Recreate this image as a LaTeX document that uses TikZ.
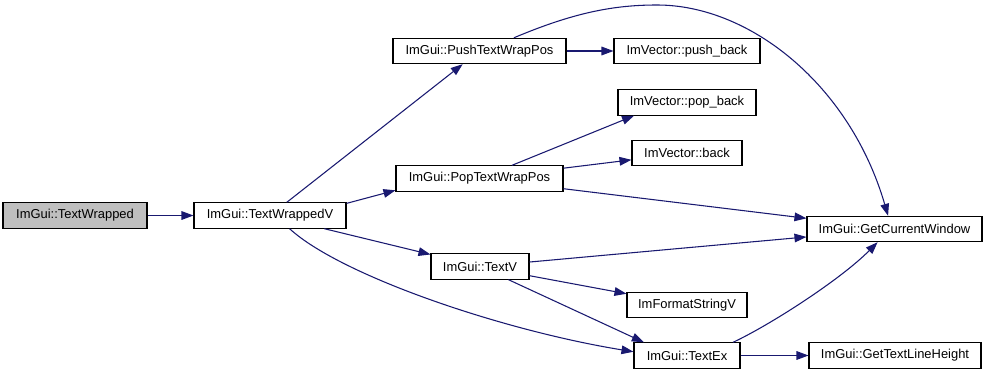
\documentclass[tikz,border=0pt]{standalone}
\usepackage{fontspec}
\setmainfont{Liberation Sans}
\usetikzlibrary{arrows.meta}
\definecolor{edgeblue}{RGB}{25,25,112}
\definecolor{rootgray}{RGB}{191,191,191}
\begin{document}
\begin{tikzpicture}[x=0.75pt,y=-0.75pt,
  fn/.style={draw=black, line width=0.8pt, fill=white, inner sep=0pt,
    minimum height=19pt, font=\fontsize{9.7}{11}\selectfont, text=black},
  call/.style={draw=edgeblue, line width=0.8pt,
    -{Triangle[length=9pt,width=6.5pt]}, fill=none},
]
\useasboundingbox (0,0) rectangle (987,374);

% functions
\node[fn, fill=rootgray, minimum width=108pt] (tw) at (75,215.5) {ImGui::TextWrapped};
\node[fn, minimum width=114pt] (twv) at (270,215.5) {ImGui::TextWrappedV};
\node[fn, minimum width=129.75pt] (push) at (479.5,51) {ImGui::PushTextWrapPos};
\node[fn, minimum width=125.25pt] (pop) at (479.5,178.5) {ImGui::PopTextWrapPos};
\node[fn, minimum width=73.5pt] (tv) at (480,266.5) {ImGui::TextV};
\node[fn, minimum width=109.5pt] (pushb) at (687,51) {ImVector::push\_back};
\node[fn, minimum width=103.5pt] (popb) at (687,102.5) {ImVector::pop\_back};
\node[fn, minimum width=82.5pt] (back) at (687,153) {ImVector::back};
\node[fn, minimum width=90pt] (fsv) at (687,305) {ImFormatStringV};
\node[fn, minimum width=79.5pt] (tex) at (687,355.5) {ImGui::TextEx};
\node[fn, minimum width=131.25pt] (gcw) at (894.5,229) {ImGui::GetCurrentWindow};
\node[fn, minimum width=129pt] (gtlh) at (895,355.5) {ImGui::GetTextLineHeight};

% calls
\draw[call] (tw) -- (twv);
\draw[call] (twv) -- (push);
\draw[call] (twv.9.7) -- (pop.188.9);
\draw[call] (twv) -- (tv);
\draw[call] (twv.-34.8) .. controls (340,275) and (500,330) .. (tex.176.2);
\draw[call] (push) -- (pushb);
\draw[call] (push.21.8) .. controls (575,12) and (615,5) .. (657,5)
  .. controls (750,5) and (850,85) .. (gcw.116.6);
\draw[call] (pop) -- (popb.194.9);
\draw[call] (pop) -- (back);
\draw[call] (pop) -- (gcw);
\draw[call] (tv) -- (gcw);
\draw[call] (tv) -- (fsv);
\draw[call] (tv) -- (tex.163.4);
\draw[call] (tex.16.2) .. controls (770,325) and (840,280) .. (gcw.218.2);
\draw[call] (tex) -- (gtlh);
\end{tikzpicture}
\end{document}
